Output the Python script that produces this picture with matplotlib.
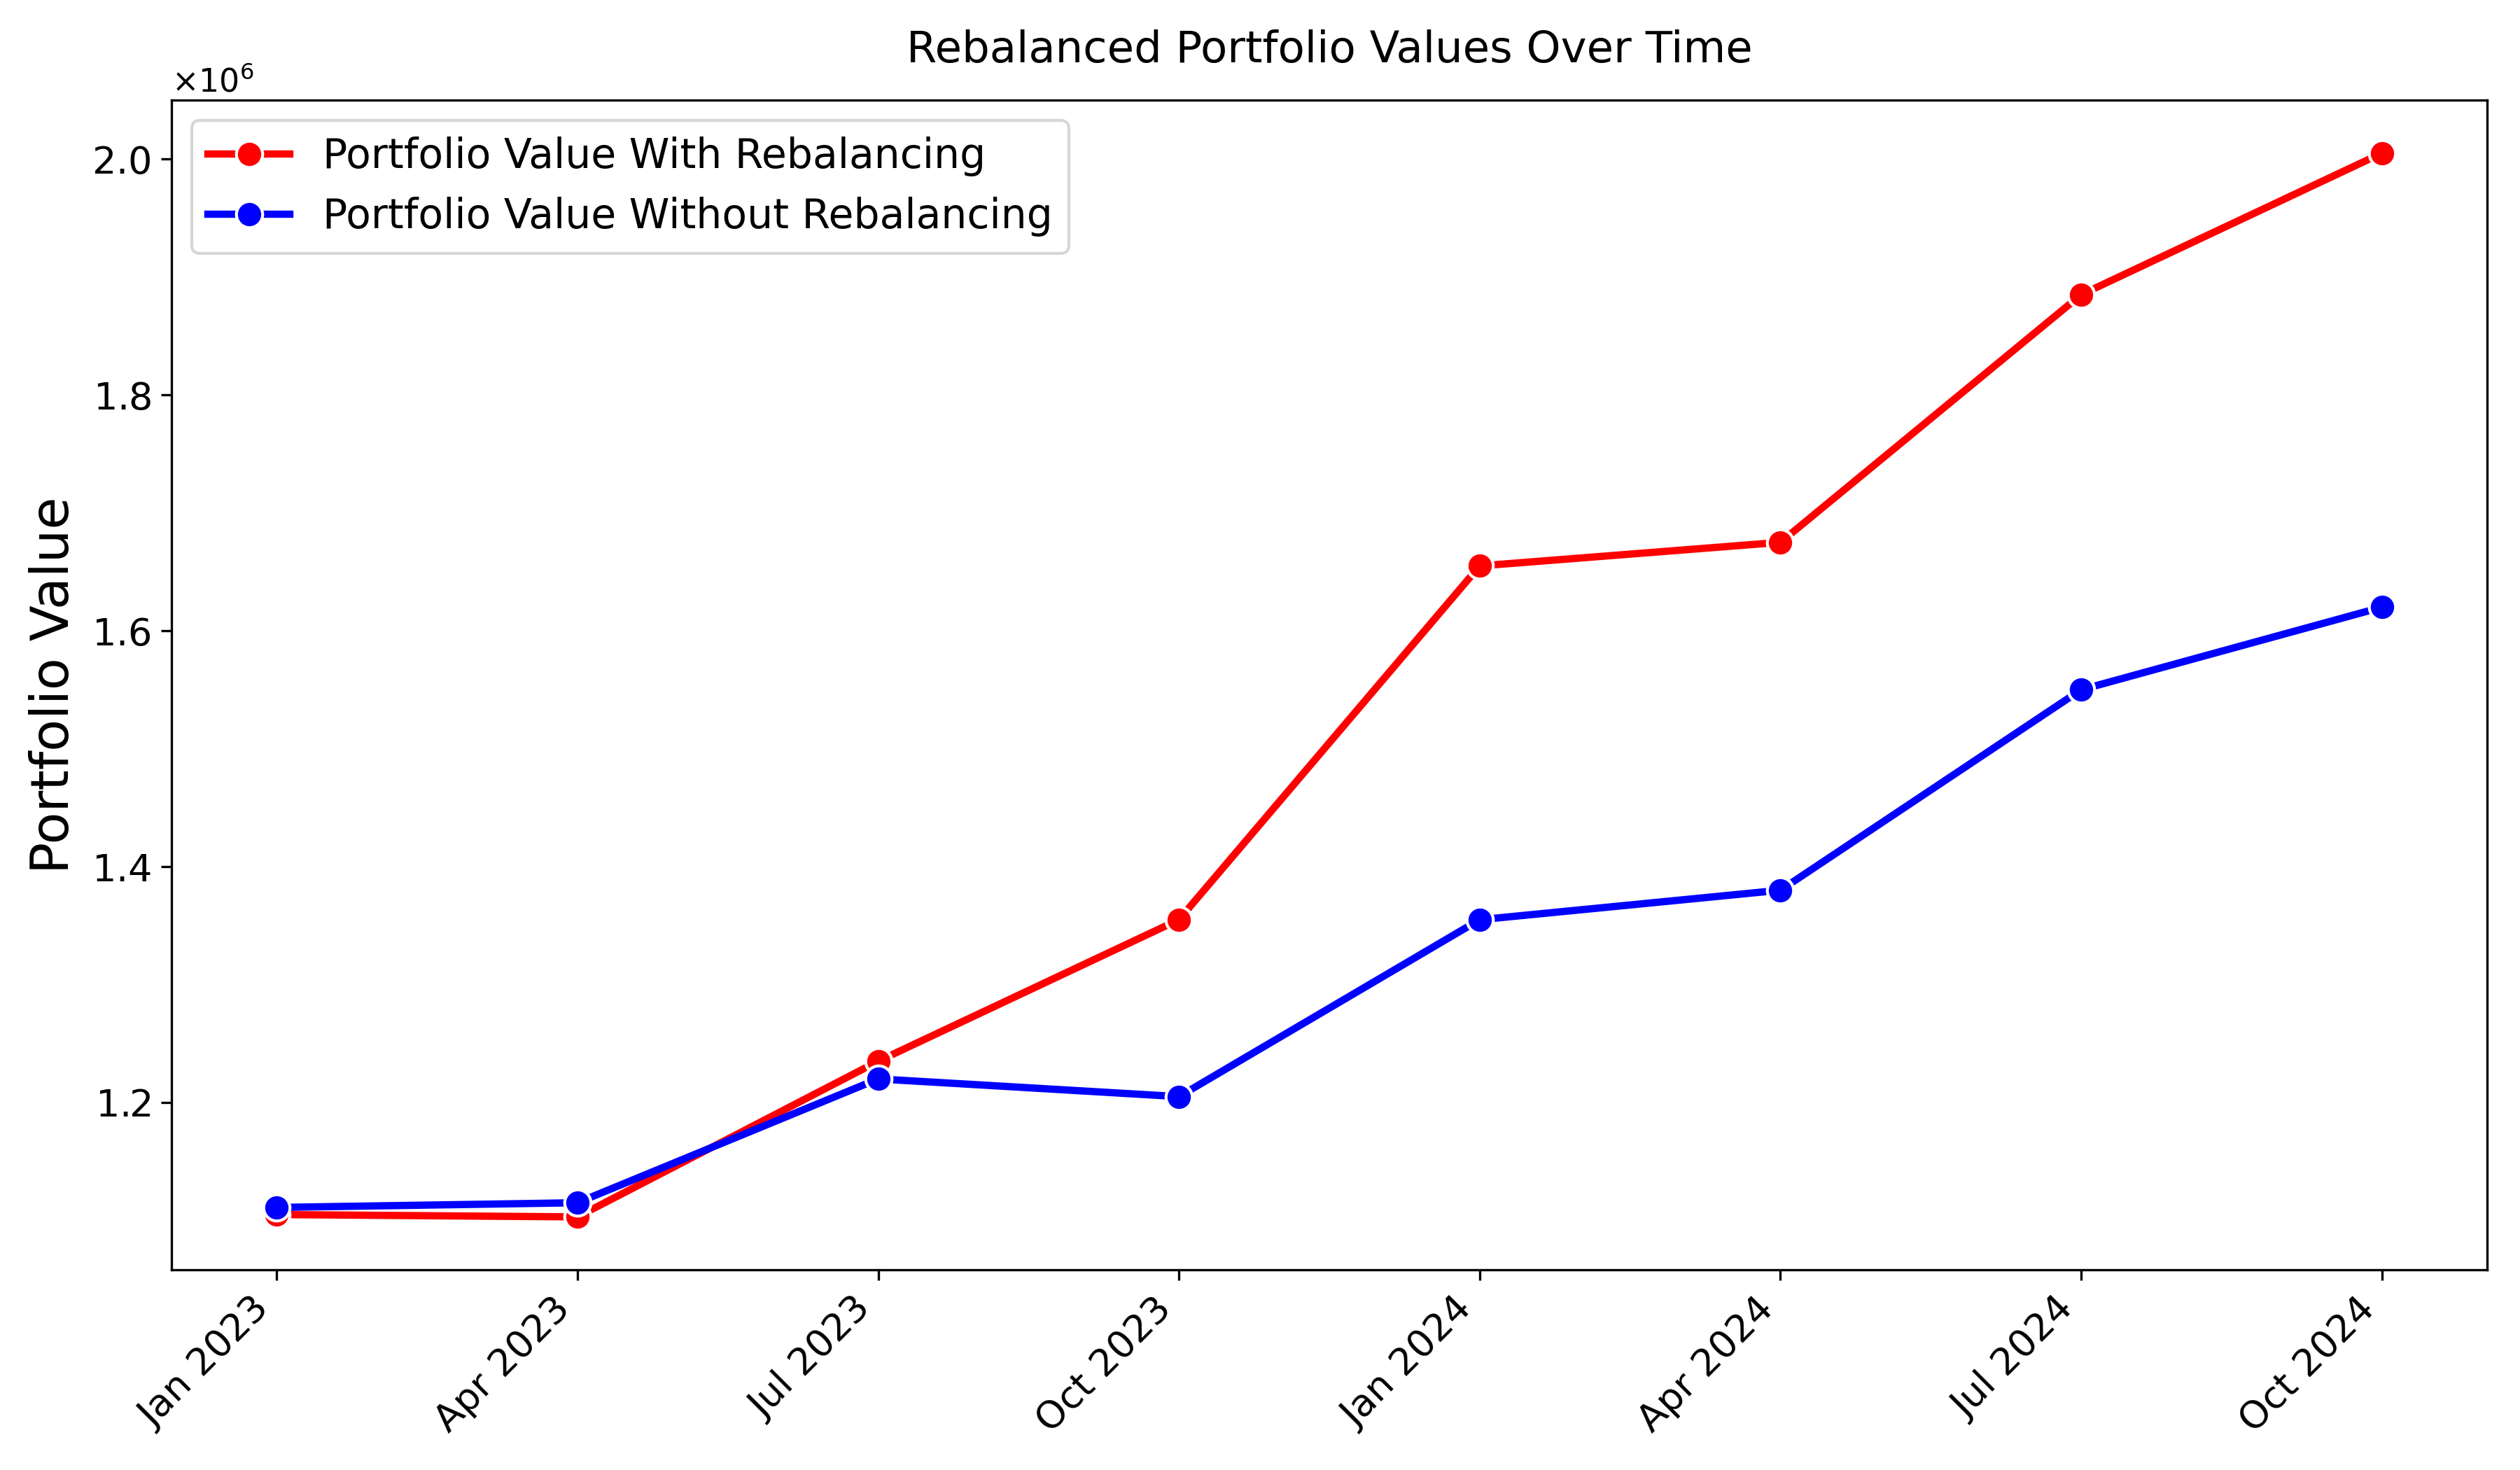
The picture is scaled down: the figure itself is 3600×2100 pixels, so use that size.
import matplotlib
matplotlib.use("Agg")
import matplotlib.pyplot as plt
import numpy as np

dates = ["Jan 2023", "Apr 2023", "Jul 2023", "Oct 2023",
         "Jan 2024", "Apr 2024", "Jul 2024", "Oct 2024"]
with_rebal = [1.105e6, 1.103e6, 1.235e6, 1.355e6, 1.655e6, 1.675e6, 1.885e6, 2.005e6]
without_rebal = [1.111e6, 1.115e6, 1.220e6, 1.205e6, 1.355e6, 1.380e6, 1.550e6, 1.620e6]

fig, ax = plt.subplots(figsize=(12, 7), dpi=300)
x = np.arange(len(dates))
ax.plot(x, with_rebal, color="red", lw=2.5, marker="o", markersize=9,
        markeredgecolor="white", markeredgewidth=1, label="Portfolio Value With Rebalancing")
ax.plot(x, without_rebal, color="blue", lw=2.5, marker="o", markersize=9,
        markeredgecolor="white", markeredgewidth=1, label="Portfolio Value Without Rebalancing")

ax.set_xticks(x)
ax.set_xticklabels(dates, rotation=45, ha="right", fontsize=13)
ax.tick_params(axis="y", labelsize=13)
ax.ticklabel_format(axis="y", style="sci", scilimits=(6, 6), useMathText=True)
ax.yaxis.get_offset_text().set_fontsize(11)
ax.set_ylabel("Portfolio Value", fontsize=18)
ax.set_title("Rebalanced Portfolio Values Over Time", fontsize=15, pad=13)
ax.legend(loc="upper left", fontsize=14)
fig.subplots_adjust(left=0.068, right=0.987, top=0.932, bottom=0.136)
fig.savefig("out.png", dpi=300)
